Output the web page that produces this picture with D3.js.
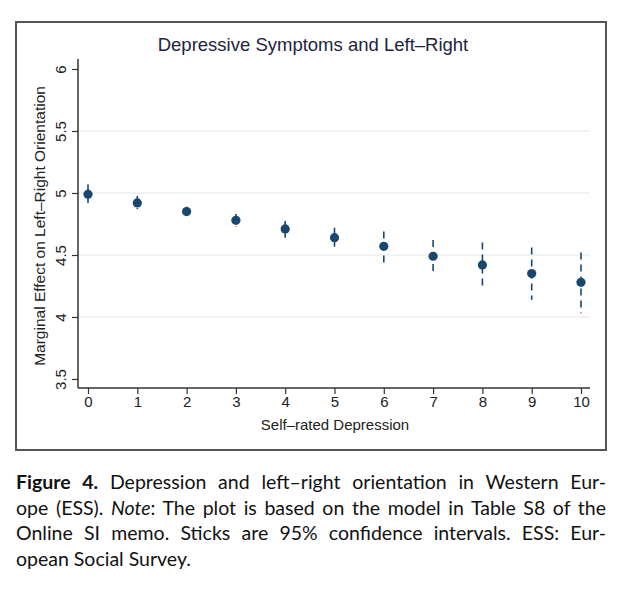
<!DOCTYPE html>
<html>
<head>
<meta charset="utf-8">
<script src="https://cdn.jsdelivr.net/npm/d3@7"></script>
<style>
  body { margin: 0; background: #fff; }
  #chart { position: absolute; left: 0; top: 0; }
  .cap { position: absolute; left: 16px; width: 590px; font-family: Lato, "Open Sans", sans-serif;
         font-size: 19.5px; color: #111; white-space: nowrap; }
  .just { text-align: justify; text-align-last: justify; white-space: normal; }
</style>
</head>
<body>
<div id="chart"></div>
<script>
    // ============================================================
    // data
    // ============================================================
    var depression = [0, 1, 2, 3, 4, 5, 6, 7, 8, 9, 10];
    var effect = [4.99, 4.92, 4.85, 4.78, 4.71, 4.64, 4.57, 4.49, 4.42, 4.35, 4.28];
    var ciLow = [4.92, 4.87, 4.81, 4.73, 4.64, 4.54, 4.44, 4.34, 4.24, 4.14, 4.03];
    var ciHigh = [5.07, 4.975, 4.89, 4.83, 4.775, 4.72, 4.69, 4.62, 4.60, 4.56, 4.52];
    var yTicks = [3.5, 4, 4.5, 5, 5.5, 6];
    var gridTicks = [4, 4.5, 5, 5.5];
    var xTicks = [0, 1, 2, 3, 4, 5, 6, 7, 8, 9, 10];

    var navy = "#1a476f";
    var font = "'Liberation Sans', Arial, sans-serif";

    var svg = d3.select("#chart").append("svg")
                .attr("width", 620)
                .attr("height", 593);

    // outer frame
    svg.append("rect")
        .attr("x", 16).attr("y", 22)
        .attr("width", 590).attr("height", 428)
        .attr("fill", "#fff")
        .attr("stroke", "#555")
        .attr("stroke-width", 2);

    var x = d3.scaleLinear().domain([0, 10]).range([88, 581]);
    var y = d3.scaleLinear().domain([3.5, 6]).range([379, 69]);

    // gridlines
    svg.selectAll("line.grid")
        .data(gridTicks)
        .enter()
        .append("line")
        .attr("class", "grid")
        .attr("x1", 78).attr("x2", 590)
        .attr("y1", function (d) { return y(d); })
        .attr("y2", function (d) { return y(d); })
        .attr("stroke", "#eaf2f3")
        .attr("stroke-width", 1.5);

    // y axis
    var yAxis = svg.append("g")
        .attr("transform", "translate(78,0)")
        .call(d3.axisLeft(y).tickValues(yTicks).tickSize(6).tickSizeOuter(0)
              .tickFormat(function (d) { return String(d); }));
    yAxis.select(".domain").attr("d", "M0,59V388").attr("stroke", "#333").attr("stroke-width", 1.5);
    yAxis.selectAll(".tick line").attr("stroke", "#333").attr("stroke-width", 1.2);
    yAxis.selectAll(".tick text")
        .attr("transform", "rotate(-90)")
        .attr("x", 0).attr("y", -12)
        .attr("dy", 0)
        .attr("text-anchor", "middle")
        .style("font-family", font)
        .style("font-size", "15px")
        .attr("fill", "#222");

    // x axis
    var xAxis = svg.append("g")
        .attr("transform", "translate(0,388)")
        .call(d3.axisBottom(x).tickValues(xTicks).tickSize(6).tickSizeOuter(0));
    xAxis.select(".domain").attr("d", "M78,0H590").attr("stroke", "#333").attr("stroke-width", 1.5);
    xAxis.selectAll(".tick line").attr("stroke", "#333").attr("stroke-width", 1.2);
    xAxis.selectAll(".tick text")
        .attr("y", 8)
        .style("font-family", font)
        .style("font-size", "15px")
        .attr("fill", "#222");

    // confidence interval sticks
    svg.selectAll("line.ci")
        .data(depression)
        .enter()
        .append("line")
        .attr("class", "ci")
        .attr("x1", function (d) { return x(d); })
        .attr("x2", function (d) { return x(d); })
        .attr("y1", function (d, i) { return y(ciHigh[i]); })
        .attr("y2", function (d, i) { return y(ciLow[i]); })
        .attr("stroke", navy)
        .attr("stroke-width", 1.6)
        .attr("stroke-dasharray", "7,5");

    // point estimates
    svg.selectAll("circle")
        .data(depression)
        .enter()
        .append("circle")
        .attr("cx", function (d) { return x(d); })
        .attr("cy", function (d, i) { return y(effect[i]); })
        .attr("r", 4.6)
        .style("fill", navy);

    // titles
    svg.append("text")
        .attr("x", 313).attr("y", 51)
        .attr("text-anchor", "middle")
        .style("font-family", font)
        .style("font-size", "18.5px")
        .attr("fill", "#1e2440")
        .text("Depressive Symptoms and Left\u2013Right");

    svg.append("text")
        .attr("transform", "translate(45,226) rotate(-90)")
        .attr("text-anchor", "middle")
        .style("font-family", font)
        .style("font-size", "15.5px")
        .attr("fill", "#222")
        .text("Marginal Effect on Left\u2013Right Orientation");

    svg.append("text")
        .attr("x", 335).attr("y", 430)
        .attr("text-anchor", "middle")
        .style("font-family", font)
        .style("font-size", "15px")
        .attr("fill", "#222")
        .text("Self\u2013rated Depression");

    // ============================================================
    // caption
    // ============================================================
    var capLines = [
        { html: "<b>Figure 4.</b> Depression and left\u2013right orientation in Western Eur-", just: true },
        { html: "ope (ESS). <i>Note</i>: The plot is based on the model in Table S8 of the", just: true },
        { html: "Online SI memo. Sticks are 95% confidence intervals. ESS: Eur-", just: true },
        { html: "opean Social Survey.", just: false }
    ];
    d3.select("body").selectAll("div.cap")
        .data(capLines)
        .enter()
        .append("div")
        .attr("class", function (d) { return d.just ? "cap just" : "cap"; })
        .style("top", function (d, i) { return (470 + i * 25.5) + "px"; })
        .html(function (d) { return d.html; });
</script>
</body>
</html>
